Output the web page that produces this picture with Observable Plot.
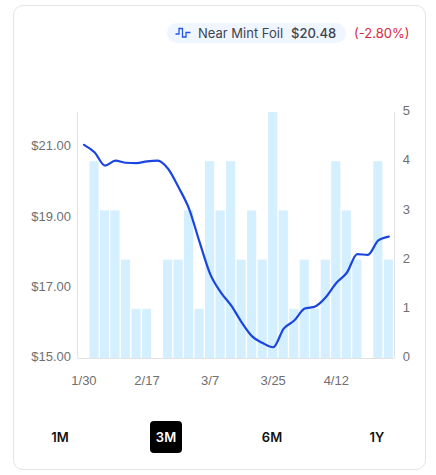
<!DOCTYPE html>
<html><head><meta charset="utf-8">
<script src="https://cdn.jsdelivr.net/npm/d3@7"></script>
<script src="https://cdn.jsdelivr.net/npm/@observablehq/plot@0.6"></script>
<style>
html,body{margin:0;padding:0;background:#fff;width:436px;height:475px;overflow:hidden;font-family:Inter,sans-serif}
#card{position:absolute;left:13px;top:5px;width:411px;height:463px;border:1px solid #e4e4e7;border-radius:10px;box-sizing:content-box}
#chart{position:absolute;left:0;top:0}
#legend{position:absolute;left:167px;top:23px;height:20px;display:flex;align-items:center;font-size:13px;color:#3f4450;white-space:nowrap}
#pill{display:flex;align-items:center;height:20px;background:#eff6ff;border-radius:10px;padding:0 8px 0 8px;box-sizing:border-box;width:179px}
#pill svg{margin-right:7px}
#pill b{font-weight:500;margin-left:8px}
#chg{margin-left:8px;color:#d9293e}
.rng{position:absolute;top:421px;height:32px;line-height:32px;text-align:center;font-size:13px;font-weight:600;color:#111;width:32px;border-radius:4px}
.on{background:#000;color:#fff}
</style></head><body>
<div id="card"></div>
<div id="chart"></div>
<div id="legend"><div id="pill"><svg width="16" height="14" viewBox="0 0 16 14"><path d="M0.5 8H4V2.5H7.5V11H11V6.5H15.5" fill="none" stroke="#2456e6" stroke-width="1.3"/></svg>Near Mint Foil<b>$20.48</b></div><span id="chg">(-2.80%)</span></div>
<div class="rng" style="left:44px">1M</div>
<div class="rng on" style="left:150px">3M</div>
<div class="rng" style="left:256px">6M</div>
<div class="rng" style="left:361px">1Y</div>
<script>
const dates = ["1/30","2/2","2/5","2/8","2/11","2/14","2/17","2/20","2/23","2/26","3/1","3/4","3/7","3/10","3/13","3/16","3/19","3/22","3/25","3/28","3/31","4/3","4/6","4/9","4/12","4/15","4/18","4/21","4/24","4/27"];
const counts = [0,4,3,3,2,1,1,0,2,2,3,1,4,3,4,2,3,2,5,3,1,2,1,2,4,3,2,0,4,2];
const prices = [21.08,20.87,20.49,20.63,20.57,20.56,20.61,20.63,20.40,19.87,19.26,18.31,17.41,16.89,16.51,16.03,15.63,15.44,15.32,15.85,16.08,16.42,16.48,16.74,17.15,17.44,17.97,17.95,18.36,18.47];
const dateTicks = ["1/30","2/17","3/7","3/25","4/12"];
const priceTicks = [15,17,19,21];
const countTicks = [0,1,2,3,4,5];
const priceMin = 15, priceMax = 22, countMax = 5;
const countToPrice = c => priceMin + c * (priceMax - priceMin) / countMax;
const priceToCount = p => (p - priceMin) * countMax / (priceMax - priceMin);
const rows = dates.map((d,i)=>({d, c:counts[i], p:prices[i]}));
const gray = "#6f6f6f";
const font = "'Liberation Sans',Arial,sans-serif";
const plot = Plot.plot({
  width:436, height:475,
  marginLeft:77.5, marginRight:41.7, marginTop:112, marginBottom:117,
  style:{background:"transparent",fontFamily:font,fontSize:"13px",color:gray},
  x:{type:"band",domain:dates,padding:0.13,align:0.5,round:false},
  y:{domain:[priceMin,priceMax]},
  marks:[
    Plot.barY(rows.filter(r=>r.c>0),{x:"d",y:r=>countToPrice(r.c),y1:priceMin,fill:"#d4efff"}),
    Plot.ruleY([priceMin],{stroke:"#e2e2e2",strokeWidth:1}),
    Plot.axisY({anchor:"left",ticks:priceTicks,tickSize:0,tickPadding:7,tickFormat:d=>"$"+d.toFixed(2),label:null,fill:gray,fontSize:13,dy:-1.5}),
    Plot.axisY({anchor:"right",ticks:countTicks.map(countToPrice),tickSize:0,tickPadding:8,tickFormat:d=>String(Math.round(priceToCount(d))),label:null,fill:gray,fontSize:13,dy:-1.5}),
    Plot.axisX({ticks:dateTicks,tickSize:0,tickPadding:17,label:null,fill:gray,fontSize:13}),
    Plot.lineY(rows,{x:"d",y:"p",stroke:"#1a45e0",strokeWidth:2.2,curve:"monotone-x"})
  ]
});
const svg = d3.select(plot);
["77.5","394.5"].forEach(x=>svg.append("line").attr("x1",x).attr("x2",x).attr("y1",112).attr("y2",358).attr("stroke","#e2e2e2"));
document.getElementById("chart").append(plot);
</script>
</body></html>
